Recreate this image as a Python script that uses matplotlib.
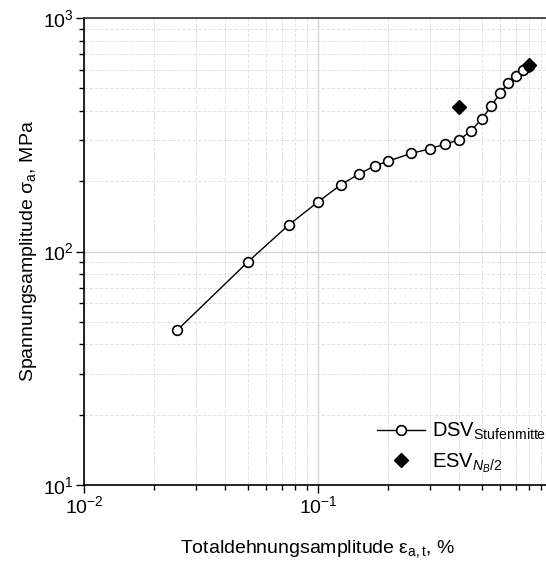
import numpy as np
import matplotlib
matplotlib.use("Agg")
import matplotlib.pyplot as plt
from matplotlib.ticker import LogLocator, NullFormatter

plt.rcParams["font.family"] = ["Liberation Sans", "DejaVu Sans"]
plt.rcParams["mathtext.fontset"] = "custom"
plt.rcParams["mathtext.rm"] = "Liberation Sans"
plt.rcParams["mathtext.it"] = "Liberation Sans:italic"
plt.rcParams["mathtext.default"] = "regular"

# DSV (Stufenmitte) data
eps_dsv = [0.025, 0.05, 0.075, 0.1, 0.125, 0.15, 0.175, 0.2, 0.25, 0.3,
           0.35, 0.4, 0.45, 0.5, 0.55, 0.6, 0.65, 0.7, 0.75, 0.8]
sig_dsv = [46, 90, 130, 163, 193, 215, 233, 244, 263, 275,
           289, 300, 328, 369, 419, 477, 525, 563, 600, 625]

# ESV at N_B/2
eps_esv = [0.4, 0.8]
sig_esv = [415, 628]

# major ticks shown (the decade at 1 lies outside the cropped picture)
x_major = [0.01, 0.1]

fig = plt.figure(figsize=(5.46, 5.61), dpi=100)
# axes runs slightly past the right edge (the reference is cropped there)
ax = fig.add_axes([84 / 546, 76 / 561, 468 / 546, 467 / 561])

ax.plot(eps_dsv, sig_dsv, color="black", linewidth=1.0, marker="o",
        markersize=7, markerfacecolor="white", markeredgecolor="black",
        markeredgewidth=1.2, label=r"DSV$_{\mathrm{Stufenmitte}}$", zorder=3)
ax.plot(eps_esv, sig_esv, linestyle="none", marker="D", markersize=7,
        color="black", label=r"ESV$_{\mathit{N_B}\mathrm{/2}}$", zorder=4)

ax.set_xscale("log")
ax.set_yscale("log")
ax.set_xticks(x_major)
ax.set_xlim(0.01, 1)
ax.set_ylim(10, 1000)

ax.xaxis.set_minor_locator(LogLocator(base=10, subs=np.arange(2, 10)))
ax.yaxis.set_minor_locator(LogLocator(base=10, subs=np.arange(2, 10)))
ax.xaxis.set_minor_formatter(NullFormatter())
ax.yaxis.set_minor_formatter(NullFormatter())

ax.grid(True, which="major", color="#d4d4d4", linewidth=1.0, linestyle="-")
ax.grid(True, which="minor", color="#e4e4e4", linewidth=0.7, linestyle="--")
ax.set_axisbelow(True)

ax.tick_params(which="major", direction="out", length=5.5, width=1.0,
               labelsize=14, top=False, right=False, pad=2)
ax.tick_params(which="minor", direction="out", length=3.5, width=1.0,
               top=False, right=False)

for side in ["left", "bottom", "top"]:
    ax.spines[side].set_linewidth(1.2)
ax.spines["top"].set_color("#333333")
ax.spines["right"].set_visible(False)

ax.set_xlabel(r"Totaldehnungsamplitude $\varepsilon_{\mathrm{a,t}}$, %",
              fontsize=14, labelpad=15)
ax.set_ylabel(r"Spannungsamplitude $\sigma_{\mathrm{a}}$, MPa",
              fontsize=14, labelpad=3)

leg = ax.legend(loc="upper left", bbox_to_anchor=(367 / 546, 1 - 411 / 561),
                bbox_transform=fig.transFigure, frameon=False, fontsize=14.5,
                handlelength=2.4, handletextpad=0.35, borderpad=0,
                labelspacing=0.45)

fig.savefig("out.png", dpi=100)
